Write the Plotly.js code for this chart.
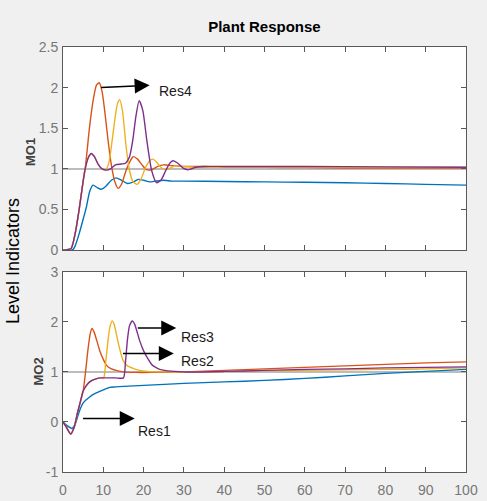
<!DOCTYPE html>
<html>
<head>
<meta charset="utf-8">
<script src="https://cdn.plot.ly/plotly-3.0.1.min.js"></script>
<style>
html,body{margin:0;padding:0;background:#f0f0f0;}
#chart{width:487px;height:501px;}
</style>
</head>
<body>
<div id="chart"></div>
<script>
// ---------- MO1 (top panel) ----------
const mo1BlueT   = [0,2,2.5,3,4,5,5.8,6.6,7.45,8.5,9.5,10.5,12,13.2,14.5,16,17.5,18.6,20,21.5,23,25,27,30,40,50,60,70,80,90,100];
const mo1BlueY   = [0,0,0.01,0.05,0.2,0.38,0.53,0.72,0.80,0.77,0.75,0.78,0.86,0.89,0.86,0.82,0.84,0.87,0.86,0.84,0.85,0.86,0.85,0.85,0.845,0.84,0.835,0.83,0.82,0.81,0.80];

const mo1OrangeT = [0,2,3,4,5,5.5,6.6,7.5,8.3,9.0,9.7,10.5,11.3,12,12.8,13.7,14.6,15.5,16.5,17.4,18.5,19.6,20.7,22,23.5,25,27,30,35,40,50,60,70,80,90,100];
const mo1OrangeY = [0,0.02,0.2,0.5,0.85,1.0,1.52,1.85,2.03,2.06,1.95,1.65,1.3,1.05,0.85,0.76,0.82,0.96,1.08,1.15,1.12,1.05,0.99,0.99,1.03,1.05,1.04,1.03,1.03,1.02,1.02,1.015,1.01,1.01,1.01,1.01];

const mo1YellowT = [0,2,3,4,5,5.5,6.3,7.0,7.8,8.7,9.7,10.6,11.4,12.2,12.9,13.5,14.1,14.8,15.6,16.5,17.4,18.4,19.4,20.5,21.5,22.3,23.3,24.3,25.3,26.5,28,30,33,40,50,60,80,100];
const mo1YellowY = [0,0.02,0.2,0.5,0.85,1.0,1.14,1.19,1.15,1.06,1.0,0.99,1.08,1.35,1.62,1.8,1.85,1.7,1.3,0.98,0.84,0.81,0.88,1.02,1.1,1.12,1.08,1.02,0.99,1.01,1.04,1.03,1.02,1.02,1.02,1.02,1.02,1.02];

const mo1PurpleT = [0,2,3,4,5,5.5,6.3,7.0,7.8,8.7,9.7,10.8,11.8,13,14.5,15.5,16.5,17.3,18.1,18.9,19.8,20.8,22,23.2,24.3,25.5,26.5,27.3,28.5,29.8,31,33,35,40,50,60,80,100];
const mo1PurpleY = [0,0.02,0.2,0.5,0.85,1.0,1.14,1.19,1.15,1.06,1.0,0.985,1.0,1.05,1.06,1.07,1.15,1.35,1.65,1.84,1.72,1.35,0.98,0.83,0.86,0.98,1.07,1.10,1.07,1.01,0.99,1.02,1.03,1.03,1.03,1.03,1.025,1.02];

// ---------- MO2 (bottom panel) ----------
const mo2BlueT   = [0,1,2.2,3,4,5,6.6,8,10,11.6,13,15,20,30,40,50,60,70,80,90,100];
const mo2BlueY   = [0,-0.07,-0.13,-0.05,0.2,0.38,0.5,0.57,0.64,0.69,0.70,0.71,0.73,0.77,0.80,0.83,0.87,0.92,0.97,1.01,1.05];

const mo2OrangeT = [0,0.8,1.9,2.8,3.5,4.3,5.0,5.6,6.2,6.8,7.2,7.7,8.4,9.1,10,10.8,12,13.2,15,18,22,30,40,50,60,70,80,90,100];
const mo2OrangeY = [0,-0.1,-0.24,-0.1,0.15,0.4,0.62,1.0,1.45,1.78,1.87,1.8,1.62,1.43,1.25,1.13,1.06,1.03,1.0,0.99,0.99,1.0,1.03,1.06,1.09,1.12,1.15,1.18,1.2];

const mo2YellowT = [0,0.8,1.9,2.8,3.5,4.3,5.0,6.0,7.0,8.2,9.3,10.1,10.6,11.2,11.7,12.2,12.7,13.2,14,14.9,16,17.4,19,21,25,30,40,50,60,70,80,90,100];
const mo2YellowY = [0,-0.1,-0.24,-0.1,0.15,0.4,0.62,0.75,0.82,0.86,0.88,0.88,1.2,1.65,1.92,2.02,1.95,1.77,1.48,1.23,1.12,1.07,1.03,1.01,1.0,1.0,1.01,1.02,1.03,1.04,1.05,1.06,1.08];

const mo2PurpleT = [0,0.8,1.9,2.8,3.5,4.3,5.0,6.0,7.0,8.2,9.3,11,13,15,15.5,16,16.5,17.2,17.8,19,20,20.8,22,22.8,24,26,30,40,50,60,70,80,90,100];
const mo2PurpleY = [0,-0.1,-0.24,-0.1,0.15,0.4,0.62,0.75,0.82,0.86,0.88,0.88,0.88,0.88,1.2,1.65,1.92,2.02,1.95,1.63,1.42,1.3,1.15,1.1,1.05,1.02,1.0,1.01,1.03,1.05,1.06,1.08,1.09,1.1];

// set-point (reference) lines
const refT = [0,100];
const refY = [1,1];

// tick labels
const xTickVals = [0,10,20,30,40,50,60,70,80,90,100];
const xTickText = ['0','10','20','30','40','50','60','70','80','90','100'];
const y1TickVals = [0,0.5,1,1.5,2,2.5];
const y1TickText = ['0','0.5','1','1.5','2','2.5'];
const y2TickVals = [-1,0,1,2,3];
const y2TickText = ['-1','0','1','2','3'];

// annotation labels
const resLabels = ['Res4','Res3','Res2','Res1'];

const C = {blue:'#0072BD', orange:'#D95319', yellow:'#EDB120', purple:'#7E2F8E', ref:'#a6a6a6'};
const sans = 'Liberation Sans, Arial, sans-serif';
const LW = 1.4;

function tr(x,y,color,xa,ya,w){
  return {x:x,y:y,xaxis:xa,yaxis:ya,type:'scatter',mode:'lines',
          line:{color:color,width:w||LW,shape:'spline',smoothing:0.6},hoverinfo:'skip',showlegend:false};
}

const data = [
  tr(refT,refY,C.ref,'x','y',1.5),
  tr(mo1BlueT,mo1BlueY,C.blue,'x','y'),
  tr(mo1OrangeT,mo1OrangeY,C.orange,'x','y'),
  tr(mo1YellowT,mo1YellowY,C.yellow,'x','y'),
  tr(mo1PurpleT,mo1PurpleY,C.purple,'x','y'),
  tr(refT,refY,C.ref,'x2','y2',1.5),
  tr(mo2BlueT,mo2BlueY,C.blue,'x2','y2'),
  tr(mo2OrangeT,mo2OrangeY,C.orange,'x2','y2'),
  tr(mo2YellowT,mo2YellowY,C.yellow,'x2','y2'),
  tr(mo2PurpleT,mo2PurpleY,C.purple,'x2','y2')
];

const axLine = '#595959';
const tickFont = {family:sans,size:14,color:'#777777'};
function xa(anchor,showLabels){
  return {anchor:anchor,range:[0,100],tickvals:xTickVals,ticktext:xTickText,showticklabels:showLabels,
    ticks:'inside',ticklen:5,tickcolor:axLine,showline:true,linecolor:axLine,linewidth:1,mirror:'ticks',
    showgrid:false,zeroline:false,tickfont:tickFont,ticklabelstandoff:5,fixedrange:true};
}
function ya(anchor,domain,range,vals,text){
  return {anchor:anchor,domain:domain,range:range,tickvals:vals,ticktext:text,
    ticks:'inside',ticklen:5,tickcolor:axLine,showline:true,linecolor:axLine,linewidth:1,mirror:'ticks',
    showgrid:false,zeroline:false,tickfont:tickFont,ticklabelstandoff:1,fixedrange:true};
}

function arrow(xr,yr,tx,ty,hx,hy){
  return {xref:xr,yref:yr,axref:xr,ayref:yr,x:hx,y:hy,ax:tx,ay:ty,text:'',showarrow:true,
          arrowhead:2,arrowsize:2.0,arrowwidth:1.5,arrowcolor:'#000',standoff:0,startstandoff:0};
}
function label(xr,yr,x,y,t){
  return {xref:xr,yref:yr,x:x,y:y,text:t,showarrow:false,font:{family:sans,size:14,color:'#1a1a1a'}};
}

const layout = {
  width:487,height:501,
  paper_bgcolor:'#f0f0f0',plot_bgcolor:'#ffffff',
  margin:{l:63,r:21,t:47,b:29},
  showlegend:false,
  title:{text:'<b>Plant Response</b>',font:{family:sans,size:15,color:'#000'},x:0.543,xanchor:'center',y:0.946,yanchor:'middle'},
  xaxis:xa('y',false),
  yaxis:ya('x',[0.522,1],[0,2.5],y1TickVals,y1TickText),
  xaxis2:xa('y2',true),
  yaxis2:ya('x2',[0,0.471],[-1,3],y2TickVals,y2TickText),
  annotations:[
    arrow('x','y',9.1,2.0,21.5,2.03),
    label('x','y',27.8,1.96,resLabels[0]),
    arrow('x2','y2',18.2,1.88,28.1,1.88),
    label('x2','y2',33.3,1.69,resLabels[1]),
    arrow('x2','y2',14.5,1.37,27.5,1.37),
    label('x2','y2',33.3,1.21,resLabels[2]),
    arrow('x2','y2',4.6,0.07,17.8,0.07),
    label('x2','y2',22.7,-0.18,resLabels[3]),
    {xref:'paper',yref:'paper',x:(30-63)/403,y:(472-152)/425,xanchor:'center',yanchor:'middle',text:'<b>MO1</b>',
     textangle:-90,showarrow:false,font:{family:sans,size:13,color:'#404040'}},
    {xref:'paper',yref:'paper',x:(37.5-63)/403,y:(472-372)/425,xanchor:'center',yanchor:'middle',text:'<b>MO2</b>',
     textangle:-90,showarrow:false,font:{family:sans,size:13,color:'#404040'}},
    {xref:'paper',yref:'paper',x:(12.5-63)/403,y:(472-261.5)/425,xanchor:'center',yanchor:'middle',text:'Level Indicators',
     textangle:-90,showarrow:false,font:{family:sans,size:18,color:'#000'}}
  ]
};

Plotly.newPlot('chart',data,layout,{displayModeBar:false,staticPlot:true});
</script>
</body>
</html>
